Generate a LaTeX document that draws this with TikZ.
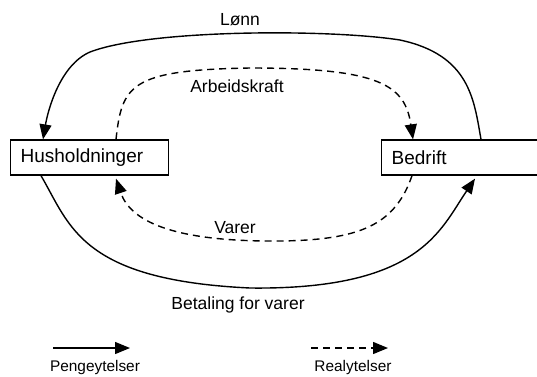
\documentclass[tikz,border=0pt]{standalone}
\usepackage{fontspec}
\setmainfont{Liberation Sans}
\usetikzlibrary{arrows.meta,calc}
\begin{document}
\begin{tikzpicture}[x=1pt,y=-1pt,
  box/.style={draw,line width=1.3pt,minimum height=35pt,inner xsep=10pt,inner ysep=0pt,align=left,anchor=west,font=\fontsize{19}{21}\selectfont},
  lbl/.style={inner sep=0pt,font=\fontsize{17.5}{20}\selectfont},
  leg/.style={inner sep=0pt,font=\fontsize{15.4}{18}\selectfont},
  flow/.style={line width=1.4pt,-{Triangle[length=15pt,width=12pt]}},
  real/.style={flow,dash pattern=on 7pt off 5pt}]
\useasboundingbox (0,0) rectangle (537,376);
\node[box,text width=138pt] (hh) at (10,157.5) {Husholdninger};
\node[box,text width=150pt] (bd) at (381,157.5) {Bedrift};
% Lonn
\draw[flow] ($(bd.north west)+(100,0)$) .. controls (474,100) and (470,55) .. (400,40)
  .. controls (330,29) and (150,29) .. (90,52)
  .. controls (60,65) and (48,110) .. ($(hh.north west)+(33,0)$);
% Arbeidskraft
\draw[real] ($(hh.north west)+(106,0)$) .. controls (122,85) and (130,70) .. (250,68)
  .. controls (380,68) and (405,85) .. ($(bd.north west)+(32,0)$);
% Varer
\draw[real] ($(bd.south west)+(31,0)$) .. controls (395,225) and (360,240) .. (280,241)
  .. controls (170,242) and (130,220) .. ($(hh.south west)+(106,3)$);
% Betaling
\draw[flow] ($(hh.south west)+(31,0)$) .. controls (70,225) and (80,280) .. (250,288)
  .. controls (420,290) and (440,230) .. ($(bd.south west)+(94,3)$);
\node[lbl] (l1) at (240,20) {Lønn};
\node[lbl] (l2) at (237,86) {Arbeidskraft};
\node[lbl] (l3) at (235,228) {Varer};
\node[lbl] (l4) at (238,305) {Betaling for varer};
% legend
\coordinate (pa) at (53,348);
\coordinate (pb) at (130,348);
\coordinate (ra) at (311,348);
\coordinate (rb) at (388,348);
\draw[flow] (pa) -- (pb);
\draw[real] (ra) -- (rb);
\node[leg] (pl) at (95,368) {Pengeytelser};
\node[leg] (rl) at (353,368) {Realytelser};
\end{tikzpicture}
\end{document}
